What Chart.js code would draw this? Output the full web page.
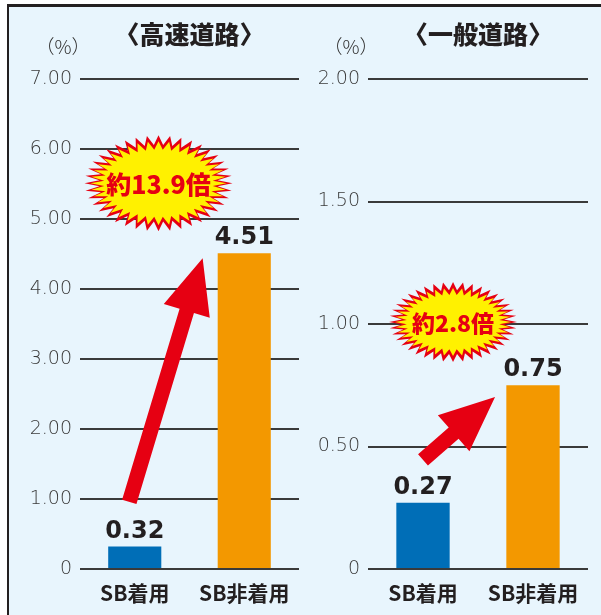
<!DOCTYPE html>
<html>
<head>
<meta charset="utf-8">
<script src="https://cdn.jsdelivr.net/npm/chart.js@4.4.0/dist/chart.umd.min.js"></script>
<style>
  body { margin: 0; background: #fff; }
  #wrap { position: relative; width: 601px; height: 615px; overflow: hidden; }
  #panel { position: absolute; left: 7px; top: 4px; width: 600px; height: 620px;
           background: #e8f5fd; border-top: 3px solid #231f20; border-left: 2.5px solid #231f20; }
  canvas { position: absolute; left: 0; top: 0; }
</style>
</head>
<body>
<div id="wrap">
  <div id="panel"></div>
  <canvas id="highway" width="601" height="615"></canvas>
  <canvas id="general" width="601" height="615"></canvas>
</div>
<script>
// data
var categories = ['SB着用', 'SB非着用'];
var highwayValues = [0.32, 4.51];
var generalValues = [0.27, 0.75];
var highwayMax = 7, highwayStep = 1;
var generalMax = 2, generalStep = 0.5;
var highwayRatio = '約13.9倍';
var generalRatio = '約2.8倍';
var barColors = ['#006eb7', '#f39800'];

var RED = '#e60012';
var INK = '#231f20';

function tickLabel(v) {
    return v === 0 ? '0' : v.toFixed(2);
}

function burst(ctx, cx, cy, rx, ry, n, depth, fill) {
    ctx.beginPath();
    for (var i = 0; i < n * 2; i++) {
        var a = Math.PI * i / n;
        var f = i % 2 === 0 ? 1 : depth;
        var px = cx + Math.cos(a) * rx * f;
        var py = cy + Math.sin(a) * ry * f;
        if (i === 0) ctx.moveTo(px, py); else ctx.lineTo(px, py);
    }
    ctx.closePath();
    ctx.fillStyle = fill;
    ctx.fill();
}

function arrow(ctx, x0, y0, x1, y1, w, headLen, headHalf) {
    var dx = x1 - x0, dy = y1 - y0;
    var len = Math.sqrt(dx * dx + dy * dy);
    var ux = dx / len, uy = dy / len;
    var nx = -uy, ny = ux;
    var bx = x1 - ux * headLen, by = y1 - uy * headLen;
    ctx.beginPath();
    ctx.moveTo(x0 + nx * w / 2, y0 + ny * w / 2);
    ctx.lineTo(bx + nx * w / 2, by + ny * w / 2);
    ctx.lineTo(bx + nx * headHalf, by + ny * headHalf);
    ctx.lineTo(x1, y1);
    ctx.lineTo(bx - nx * headHalf, by - ny * headHalf);
    ctx.lineTo(bx - nx * w / 2, by - ny * w / 2);
    ctx.lineTo(x0 - nx * w / 2, y0 - ny * w / 2);
    ctx.closePath();
    ctx.fillStyle = RED;
    ctx.fill();
}

var overlay = {
    id: 'overlay',
    afterDatasetsDraw: function(chart, args, opts) {
        var ctx = chart.ctx;
        var xs = chart.scales.x, ys = chart.scales.y;
        var area = chart.chartArea;
        var values = chart.data.datasets[0].data;
        ctx.save();

        // value labels
        ctx.font = 'bold 24px "DejaVu Sans"';
        ctx.fillStyle = INK;
        ctx.textAlign = 'center';
        ctx.textBaseline = 'alphabetic';
        chart.getDatasetMeta(0).data.forEach(function(bar, i) {
            ctx.fillText(values[i].toFixed(2), bar.x, bar.y - 9);
        });

        // arrow
        var a = opts.arrow;
        arrow(ctx, xs.getPixelForValue(a.from[0]), ys.getPixelForValue(a.from[1]),
              xs.getPixelForValue(a.to[0]), ys.getPixelForValue(a.to[1]), 15, 55, 24);

        // starburst
        var b = opts.burst;
        var cx = xs.getPixelForValue(b.at[0]), cy = ys.getPixelForValue(b.at[1]);
        burst(ctx, cx, cy, b.rx, b.ry, 40, 0.8, RED);
        burst(ctx, cx, cy, b.rx - 6, b.ry - 6, 40, 0.8, '#fff100');
        ctx.font = '900 ' + b.size + 'px "Noto Sans CJK JP"';
        ctx.fillStyle = RED;
        ctx.textBaseline = 'middle';
        ctx.fillText(b.text, cx, cy + 1);

        // title and unit
        ctx.font = '900 25px "Noto Sans CJK JP"';
        ctx.fillStyle = INK;
        ctx.fillText(opts.title, (area.left + area.right) / 2, 34);
        ctx.font = '300 19px "Noto Sans CJK JP"';
        ctx.fillStyle = '#333';
        ctx.fillText('（%）', area.left - 17, 47);
        ctx.restore();
    }
};

function makeChart(id, values, max, step, padLeft, padRight, extra) {
    return new Chart(document.getElementById(id), {
        type: 'bar',
        data: {
            labels: categories,
            datasets: [{
                data: values,
                backgroundColor: barColors,
                barPercentage: 0.485,
                categoryPercentage: 1
            }]
        },
        options: {
            responsive: false,
            animation: false,
            events: [],
            layout: { padding: { left: padLeft, right: padRight, top: 79, bottom: 6 } },
            plugins: {
                legend: { display: false },
                tooltip: { enabled: false },
                overlay: extra
            },
            scales: {
                x: {
                    grid: { display: false },
                    border: { display: false },
                    ticks: {
                        color: INK,
                        padding: 3,
                        font: { family: '"Noto Sans CJK JP"', size: 21, weight: 600 }
                    },
                    afterFit: function(s) { s.height = 40; }
                },
                y: {
                    min: 0,
                    max: max,
                    border: { display: false },
                    grid: { color: '#3a3a3a', lineWidth: 2, drawTicks: false },
                    ticks: {
                        stepSize: step,
                        color: '#3a3a3a',
                        padding: 8,
                        font: { family: '"DejaVu Sans"', size: 19, weight: 200 },
                        callback: tickLabel
                    },
                    afterFit: function(s) { s.width = 70; }
                }
            }
        },
        plugins: [overlay]
    });
}

makeChart('highway', highwayValues, highwayMax, highwayStep, 10, 302, {
    title: '〈高速道路〉',
    arrow: { from: [-0.05, 0.96], to: [0.62, 4.44] },
    burst: { at: [0.217, 5.51], rx: 74, ry: 48, text: highwayRatio, size: 25 }
});

makeChart('general', generalValues, generalMax, generalStep, 298, 13, {
    title: '〈一般道路〉',
    arrow: { from: [0.0, 0.445], to: [0.655, 0.702] },
    burst: { at: [0.273, 1.008], rx: 64, ry: 40, text: generalRatio, size: 23 }
});
</script>
</body>
</html>
